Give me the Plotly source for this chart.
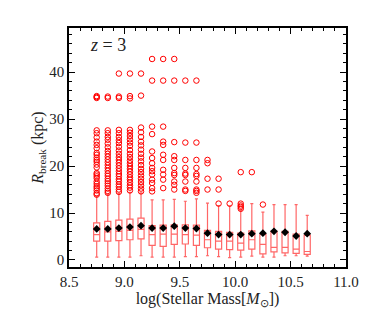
import plotly.graph_objects as go

# bin centres, log stellar mass
mass_bins = [8.75, 8.85, 8.95, 9.05, 9.15, 9.25, 9.35, 9.45, 9.55, 9.65,
             9.75, 9.85, 9.95, 10.05, 10.15, 10.25, 10.35, 10.45, 10.55, 10.65]

# box statistics for R_break (kpc)
q1 = [4.0, 4.0, 4.1, 4.3, 4.5, 3.1, 2.9, 3.3, 3.4, 3.1,
      2.6, 2.3, 2.2, 2.1, 2.3, 1.3, 1.7, 1.5, 1.4, 1.2]
median = [5.4, 6.0, 6.1, 6.3, 6.5, 5.4, 5.5, 5.5, 5.4, 5.3,
          4.3, 4.0, 4.0, 3.6, 4.3, 3.3, 2.7, 2.7, 2.3, 1.8]
q3 = [7.9, 8.2, 8.5, 8.7, 8.9, 7.3, 7.4, 7.5, 7.5, 7.4,
      6.3, 6.1, 5.9, 5.7, 6.2, 5.5, 6.1, 6.1, 5.5, 5.3]
mean = [6.6, 6.6, 6.8, 7.0, 7.3, 6.8, 6.8, 7.2, 6.8, 6.7,
        5.7, 5.4, 5.4, 5.4, 5.6, 5.7, 6.1, 5.9, 5.1, 5.6]
lower = [0.6, 0.6, 0.6, 0.6, 0.9, 0.6, 0.6, 0.6, 0.7, 0.7,
         0.9, 0.7, 0.5, 0.6, 0.8, 0.6, 0.6, 0.9, 0.9, 0.8]
upper = [13.6, 13.9, 14.2, 14.4, 14.3, 12.8, 12.8, 12.9, 12.5, 13.0,
         12.1, 11.6, 11.5, 10.5, 12.0, 10.2, 11.8, 11.8, 11.8, 9.5]

# outliers per bin
outliers = [
    [13.9, 14.2, 14.8, 15.3, 15.7, 16.2, 16.7, 17.4, 17.8, 18.2, 18.5, 19.7, 20.3, 20.9,
     21.3, 21.8, 22.4, 22.8, 23.8, 24.5, 25.2, 26.1, 27.0, 27.6, 34.5, 34.7, 34.9],
    [14.3, 14.7, 15.2, 15.8, 16.3, 16.8, 17.3, 17.9, 18.4, 19.0, 19.6, 20.2, 20.8, 21.4,
     22.0, 22.6, 23.2, 24.0, 24.8, 25.6, 26.2, 27.0, 27.6, 34.5, 34.8],
    [14.5, 15.0, 15.6, 16.1, 16.7, 17.2, 17.8, 18.3, 18.9, 19.5, 20.1, 20.7, 21.3, 21.9,
     22.6, 23.3, 24.1, 24.9, 25.5, 26.2, 27.0, 27.7, 34.5, 34.8, 39.7],
    [14.8, 15.4, 15.9, 16.5, 17.1, 17.6, 18.2, 18.8, 19.4, 20.0, 20.6, 21.2, 21.9, 22.6,
     23.4, 24.3, 25.0, 25.7, 26.4, 27.1, 27.7, 34.4, 34.9, 39.7],
    [14.6, 15.2, 15.9, 16.6, 17.3, 18.0, 18.7, 19.4, 20.2, 21.0, 21.8, 22.6, 23.5, 24.4,
     25.2, 26.2, 27.2, 28.2, 35.0, 39.7],
    [14.6, 15.3, 16.4, 17.1, 18.2, 18.9, 19.6, 20.6, 21.7, 23.1, 26.8, 28.4, 38.2, 42.8],
    [15.3, 17.1, 18.2, 19.2, 21.3, 22.4, 24.5, 25.2, 28.4, 38.2, 42.8],
    [15.0, 16.0, 16.7, 18.1, 18.5, 19.6, 21.3, 22.1, 25.1, 38.2, 42.8],
    [14.7, 15.0, 16.7, 18.1, 18.4, 19.6, 21.3, 25.0, 38.2],
    [14.3, 14.7, 15.0, 16.7, 17.9, 18.3, 19.6, 21.3, 25.0, 38.2],
    [15.0, 17.3, 20.6, 21.3],
    [12.0, 15.0, 17.3],
    [12.0],
    [10.9, 11.3, 11.6, 12.0, 18.7],
    [18.7],
    [11.8],
    [], [], [], [],
]

out_x = [m for m, vals in zip(mass_bins, outliers) for _ in vals]
out_y = [v for vals in outliers for v in vals]

serif = "Liberation Serif"
red_line = "rgba(255,0,0,0.6)"

fig = go.Figure()
fig.add_trace(go.Box(
    x=mass_bins, q1=q1, median=median, q3=q3,
    lowerfence=lower, upperfence=upper,
    width=0.055, whiskerwidth=0.5,
    fillcolor="white", line=dict(color=red_line, width=1.2),
    boxpoints=False, showlegend=False,
))
fig.add_trace(go.Scatter(
    x=out_x, y=out_y, mode="markers",
    marker=dict(symbol="circle-open", size=5.5, color="red", line=dict(width=1)),
    showlegend=False,
))
fig.add_trace(go.Scatter(
    x=mass_bins, y=mean, mode="markers",
    marker=dict(symbol="diamond", size=6, color="black"),
    showlegend=False,
))

axis_common = dict(
    showline=True, linecolor="black", linewidth=1.5, mirror="ticks",
    ticks="inside", ticklen=6, tickwidth=1, tickcolor="black",
    showgrid=False, zeroline=False,
    tickfont=dict(family=serif, size=15, color="#222"),
)
fig.update_xaxes(
    range=[8.5, 11.0], tickvals=[8.5, 9.0, 9.5, 10.0, 10.5, 11.0],
    ticktext=["8.5", "9.0", "9.5", "10.0", "10.5", "11.0"],
    minor=dict(ticks="inside", ticklen=3, dtick=0.1, tick0=8.5, tickcolor="black"),
    title=dict(text="log(Stellar Mass[<i>M</i><sub>⊙</sub>])",
               font=dict(family=serif, size=16, color="#222"), standoff=1),
    **axis_common,
)
fig.update_yaxes(
    range=[-1.5, 49.4], tickvals=[0, 10, 20, 30, 40],
    minor=dict(ticks="inside", ticklen=3, dtick=2, tick0=0, tickcolor="black"),
    title=dict(text="<i>R</i><sub>break</sub> (kpc)",
               font=dict(family=serif, size=16, color="#222"), standoff=2),
    **axis_common,
)
fig.add_annotation(
    x=0.07, y=0.93, xref="paper", yref="paper", xanchor="left", yanchor="middle",
    text="<i>z</i> = 3", showarrow=False,
    font=dict(family=serif, size=18, color="#222"),
)
fig.update_layout(
    width=374, height=320,
    margin=dict(l=61, r=36, t=20, b=61),
    paper_bgcolor="white", plot_bgcolor="white",
)

fig.write_html("out.html")
